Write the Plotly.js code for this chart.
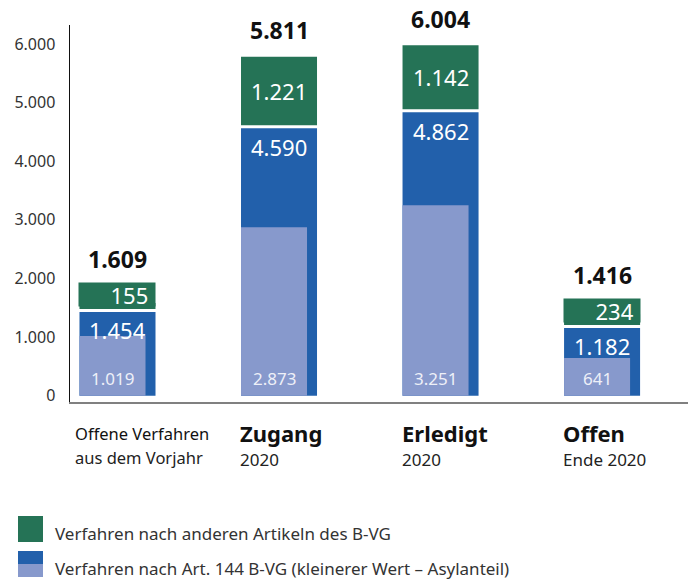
<!DOCTYPE html>
<html>
<head>
<meta charset="utf-8">
<script src="https://cdn.plot.ly/plotly-3.0.1.min.js"></script>
<style>html,body{margin:0;padding:0;background:#fff;}#chart{width:692px;height:580px;}</style>
</head>
<body>
<div id="chart"></div>
<script>
// ---- data ----
const catMain = ['Offene Verfahren', 'Zugang', 'Erledigt', 'Offen'];
const catSub = ['aus dem Vorjahr', '2020', '2020', 'Ende 2020'];
const totals = [1609, 5811, 6004, 1416];
const art144 = [1454, 4590, 4862, 1182];        // Verfahren nach Art. 144 B-VG
const asyl = [1019, 2873, 3251, 641];           // davon Asylanteil
const andere = [155, 1221, 1142, 234];          // Verfahren nach anderen Artikeln des B-VG
const legendLabels = ['Verfahren nach anderen Artikeln des B-VG',
                      'Verfahren nach Art. 144 B-VG (kleinerer Wert \u2013 Asylanteil)'];

// ---- style ----
const GREEN = '#257356', BLUE = '#2260ab', LIGHT = '#8799cc';
const FONT = 'Noto Sans, Open Sans, sans-serif';
const M = {l: 70, r: 4, t: 25, b: 178};
const W = 692, H = 580;
const plotH = H - M.t - M.b;
const yRange = [-108, 6326];
const xRange = [-0.294, 3.532];
const k = plotH / (yRange[1] - yRange[0]);  // px per unit
const BW = 0.4706, LW = 0.4087;
const BOXH = 23;

const xs = catMain.map((_, i) => i);
const fmt = v => String(v).replace(/\B(?=(\d{3})+(?!\d))/g, '.');

const traces = [
  {type: 'bar', x: xs, y: art144, width: BW, marker: {color: BLUE}, hoverinfo: 'skip', showlegend: false},
  {type: 'bar', x: xs, y: asyl, width: LW, offset: -BW / 2, marker: {color: LIGHT}, hoverinfo: 'skip', showlegend: false},
  {type: 'bar', x: xs, y: andere, base: art144, width: BW + 3 / 161.5,
   marker: {color: GREEN, line: {color: '#ffffff', width: 3}}, hoverinfo: 'skip', showlegend: false}
];

const ann = [];
xs.forEach(i => {
  // light (Asyl) label
  ann.push({x: i - BW / 2 + LW / 2, y: 0, xref: 'x', yref: 'y', yanchor: 'bottom', yshift: 4,
    text: fmt(asyl[i]), showarrow: false, font: {family: FONT, size: 17, color: '#eef0f8'}});
  // blue label
  ann.push({x: i + BW / 2, y: art144[i], xref: 'x', yref: 'y', xanchor: 'right', xshift: -8,
    yanchor: 'top', yshift: -3, text: fmt(art144[i]), showarrow: false,
    font: {family: FONT, size: 22, color: '#ffffff'}});
  // green label
  const gpx = andere[i] * k;
  let extra = 0;
  if (gpx >= 32) {
    ann.push({x: i + BW / 2, y: art144[i] + andere[i] / 2, xref: 'x', yref: 'y', xanchor: 'right',
      xshift: -8, yanchor: 'middle', text: fmt(andere[i]), showarrow: false,
      font: {family: FONT, size: 22, color: '#ffffff'}});
  } else {
    ann.push({x: i, y: art144[i], xref: 'x', yref: 'y', xanchor: 'center', yanchor: 'bottom', yshift: 3,
      width: 76 - 2, height: BOXH - 2, borderpad: 1, align: 'right', valign: 'middle', bgcolor: GREEN,
      text: fmt(andere[i]) + '&nbsp;', showarrow: false,
      font: {family: FONT, size: 22, color: '#ffffff'}});
    extra = Math.max(0, 3 + BOXH - gpx);
  }
  // total label
  ann.push({x: i, y: totals[i], xref: 'x', yref: 'y', yanchor: 'bottom', yshift: 7 + extra,
    text: '<b>' + fmt(totals[i]) + '</b>', showarrow: false,
    font: {family: FONT, size: 23, color: '#111111'}});
  // category labels
  const first = i === 0;
  ann.push({x: i - BW / 2, y: 0, xref: 'x', yref: 'paper', xanchor: 'left', xshift: first ? -6 : -3,
    yanchor: 'middle', yshift: -31, showarrow: false,
    text: first ? catMain[i] : '<b>' + catMain[i] + '</b>',
    font: {family: FONT, size: first ? 16.5 : 22, color: '#111111'}});
  ann.push({x: i - BW / 2, y: 0, xref: 'x', yref: 'paper', xanchor: 'left', xshift: first ? -6 : -3,
    yanchor: 'middle', yshift: first ? -55 : -57, showarrow: false, text: catSub[i],
    font: {family: FONT, size: first ? 16.5 : 17, color: '#222222'}});
});
// legend texts
legendLabels.forEach((t, j) => {
  ann.push({x: 0, y: 0, xref: 'paper', yref: 'paper', xanchor: 'left', xshift: -17,
    yanchor: 'middle', yshift: j === 0 ? -131 : -166, text: t, showarrow: false,
    font: {family: FONT, size: 17, color: '#333333'}});
});

const sq = (y0, y1, color) => ({type: 'rect', xref: 'paper', yref: 'paper', xsizemode: 'pixel', ysizemode: 'pixel',
  xanchor: 0, yanchor: 0, x0: -52, x1: -27, y0: y0, y1: y1, fillcolor: color, line: {width: 0}});
const shapes = [sq(-140, -114, GREEN), sq(-162, -149, BLUE), sq(-175, -162, LIGHT)];

const layout = {
  width: W, height: H, margin: M, paper_bgcolor: '#fff', plot_bgcolor: '#fff',
  barmode: 'overlay', separators: ',.', showlegend: false,
  font: {family: FONT, color: '#333'},
  xaxis: {range: xRange, showticklabels: false, ticks: '', showgrid: false, zeroline: false,
    showline: true, linecolor: '#808080', linewidth: 2, fixedrange: true},
  yaxis: {range: yRange, tickvals: [0, 1000, 2000, 3000, 4000, 5000, 6000], tickformat: ',d',
    ticks: '', ticklabelstandoff: 10, showgrid: false, zeroline: false, showline: true,
    linecolor: '#111111', linewidth: 1.5, tickfont: {family: FONT, size: 16, color: '#333333'}, fixedrange: true},
  annotations: ann, shapes: shapes
};
Plotly.newPlot('chart', traces, layout, {staticPlot: true, displayModeBar: false});
</script>
</body>
</html>
